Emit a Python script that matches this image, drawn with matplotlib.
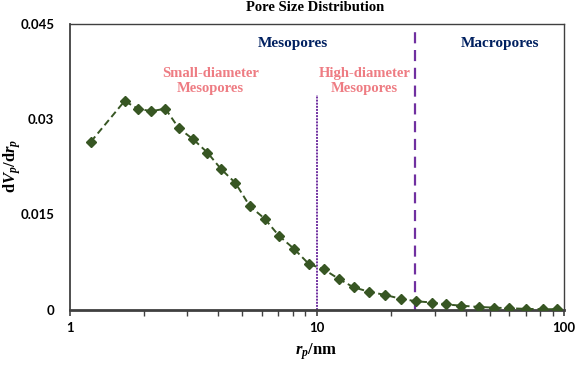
import matplotlib
matplotlib.use("Agg")
import matplotlib.pyplot as plt
from matplotlib.ticker import FixedLocator, NullFormatter, LogLocator

# ---- data ----
pore_radius_nm = [1.22, 1.67, 1.89, 2.14, 2.44, 2.77, 3.16, 3.61, 4.10, 4.69,
                  5.35, 6.15, 7.03, 8.06, 9.27, 10.69, 12.29, 14.08, 16.25, 18.87,
                  21.81, 25.23, 29.29, 33.45, 38.46, 45.36, 52.13, 59.98, 70.42, 82.25, 93.4]
dv_dr = [0.0264, 0.0328, 0.0316, 0.0312, 0.0316, 0.0285, 0.0268, 0.0247, 0.0221, 0.0199,
         0.0163, 0.0143, 0.0116, 0.0096, 0.0072, 0.0063, 0.0048, 0.0035, 0.0028, 0.0023,
         0.0017, 0.0013, 0.0011, 0.0008, 0.0006, 0.0004, 0.0003, 0.0002, 0.0001, 0.00005, 0.00005]
y_ticks = [0, 0.015, 0.03, 0.045]
y_tick_labels = ["0", "0.015", "0.03", "0.045"]
x_ticks = [1, 10, 100]
x_tick_labels = ["1", "10", "100"]
meso_small_boundary = 10
macro_boundary = 25
meso_small_line_top = 0.0338

plt.rcParams['mathtext.fontset'] = 'custom'
plt.rcParams['mathtext.rm'] = 'Liberation Serif:bold'
plt.rcParams['mathtext.it'] = 'Liberation Serif:italic:bold'
plt.rcParams['mathtext.bf'] = 'Liberation Serif:bold'

fig = plt.figure(figsize=(5.75, 3.65), dpi=100)
ax = fig.add_axes([0.1209, 0.152, 0.8601, 0.7836])

green = '#375623'
ax.plot(pore_radius_nm, dv_dr, linestyle=(0, (3.5, 2)), color=green, linewidth=1.4,
        marker='D', markersize=4.8, markerfacecolor=green, markeredgecolor=green, zorder=3)

purple = '#7030A0'
ax.vlines(meso_small_boundary, 0, meso_small_line_top, colors=purple, linestyles=(0, (1, 0.6)), linewidth=1.4)
ax.vlines(macro_boundary, 0, 0.0445, colors=purple, linestyles=(0, (5, 3)), linewidth=1.6)

ax.set_xscale('log')
ax.set_xlim(1, 100)
ax.set_ylim(0, 0.045)
ax.xaxis.set_major_locator(FixedLocator(x_ticks))
ax.set_xticklabels(x_tick_labels)
ax.xaxis.set_minor_locator(LogLocator(base=10, subs=range(2, 10)))
ax.xaxis.set_minor_formatter(NullFormatter())
ax.set_yticks(y_ticks)
ax.set_yticklabels(y_tick_labels)

for lab in ax.get_xticklabels() + ax.get_yticklabels():
    lab.set_fontfamily('Lato')
    lab.set_fontweight('bold')
    lab.set_fontsize(9.5)
ax.tick_params(axis='x', which='major', direction='out', length=4, width=1.2, color='#404040', pad=5)
ax.tick_params(axis='x', which='minor', direction='out', length=4, width=1.0, color='#404040')
ax.tick_params(axis='y', length=0, pad=11)

for name, sp in ax.spines.items():
    sp.set_color('#404040')
    sp.set_linewidth(1.0)
ax.spines['bottom'].set_linewidth(2.0)
ax.spines['left'].set_linewidth(1.3)

fig.text(316 / 575, 1 - 352 / 365, r'$r_p$/nm', ha='center', va='center',
         fontsize=12, fontfamily='Liberation Serif', fontweight='bold')
fig.text(12 / 575, 1 - 166 / 365, r'$\mathrm{d}V_p/\mathrm{d}r_p$', ha='center', va='center',
         fontsize=12, rotation=90)

serif = 'Liberation Serif'
navy = '#002060'
salmon = '#EE7C83'
ax.text(0.451, 0.929, 'Mesopores', transform=ax.transAxes, ha='center', va='center',
        color=navy, fontsize=11, fontweight='bold', fontfamily=serif)
ax.text(0.871, 0.929, 'Macropores', transform=ax.transAxes, ha='center', va='center',
        color=navy, fontsize=11, fontweight='bold', fontfamily=serif)
ax.text(0.285, 0.80, 'Small-diameter\nMesopores', transform=ax.transAxes, ha='center', va='center',
        color=salmon, fontsize=10.5, fontweight='bold', fontfamily=serif, linespacing=1.2)
ax.text(0.597, 0.80, 'High-diameter\nMesopores', transform=ax.transAxes, ha='center', va='center',
        color=salmon, fontsize=10.5, fontweight='bold', fontfamily=serif, linespacing=1.2)

fig.text(0.548, 0.979, 'Pore Size Distribution', ha='center', va='center',
         fontsize=10.5, fontweight='bold', fontfamily=serif)

fig.savefig('out.png', dpi=100)
